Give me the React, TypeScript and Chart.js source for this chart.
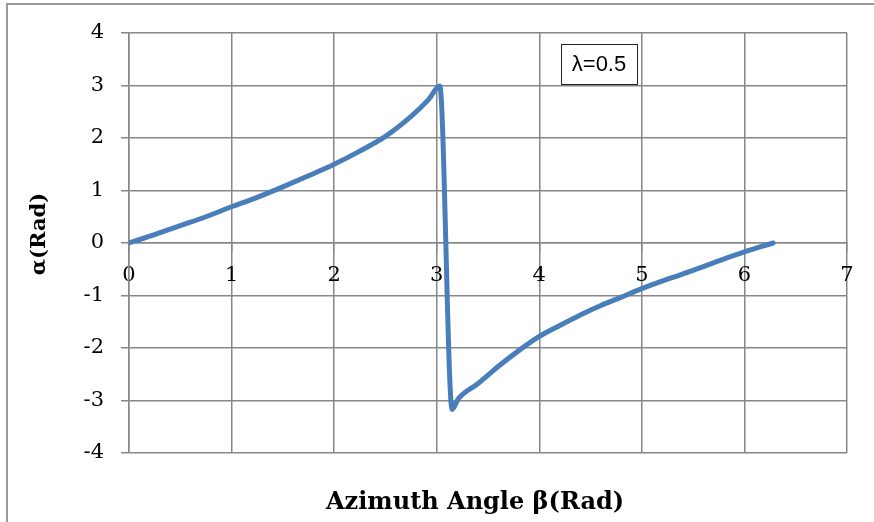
import { useEffect, useRef } from "react";
import { Chart, registerables, Plugin } from "chart.js";

Chart.register(...registerables);

// Azimuth angle β (rad) and the resulting α (rad) for λ = 0.5
const betaRad = [
  0, 0.25, 0.5, 0.75, 1, 1.25, 1.5, 1.75, 2, 2.25, 2.5, 2.75, 2.92, 3.03,
  3.15, 3.21, 3.4, 3.62, 3.8, 4, 4.2, 4.4, 4.6, 4.8, 5, 5.25, 5.5, 5.75, 6, 6.28,
];
const alphaRad = [
  0, 0.16, 0.33, 0.5, 0.69, 0.87, 1.07, 1.28, 1.5, 1.75, 2.03, 2.41, 2.73, 2.99,
  -3.17, -2.97, -2.68, -2.32, -2.05, -1.78, -1.57, -1.37, -1.19, -1.03, -0.87, -0.69, -0.52, -0.34, -0.17, 0,
];

const xRange = [0, 7];
const yRange = [-4, 4];
const tickStep = 1;

const xTitle = "Azimuth Angle β(Rad)";
const yTitle = "α(Rad)";
const noteText = "λ=0.5";

const gridGray = "#878787";
const lineBlue = "#4a7ebb";
const serif = "'DejaVu Serif', serif";

const decorations: Plugin = {
  id: "decorations",
  beforeDraw(chart) {
    const { ctx, width, height } = chart;
    ctx.save();
    ctx.fillStyle = "#ffffff";
    ctx.fillRect(0, 0, width, height);
    // outer frame of the chart object
    ctx.strokeStyle = "#9a9a9a";
    ctx.lineWidth = 2;
    ctx.beginPath();
    ctx.moveTo(7, height);
    ctx.lineTo(7, 4);
    ctx.lineTo(width, 4);
    ctx.stroke();
    ctx.restore();
  },
  afterDraw(chart) {
    const { ctx, chartArea } = chart;
    ctx.save();
    ctx.fillStyle = "#000000";

    // horizontal axis title
    ctx.font = `bold 24px ${serif}`;
    ctx.textAlign = "center";
    ctx.textBaseline = "middle";
    ctx.fillText(xTitle, chartArea.left + 346, chartArea.bottom + 50);

    // vertical axis title
    ctx.save();
    ctx.translate(40, chartArea.top + 201);
    ctx.rotate(-Math.PI / 2);
    ctx.font = `bold 21px ${serif}`;
    ctx.fillText(yTitle, 0, 0);
    ctx.restore();

    // parameter note box
    const bx = chartArea.left + 432;
    const by = chartArea.top + 11;
    const bw = 76;
    const bh = 40;
    ctx.fillStyle = "#ffffff";
    ctx.fillRect(bx, by, bw, bh);
    ctx.strokeStyle = "#222222";
    ctx.lineWidth = 1;
    ctx.strokeRect(bx + 0.5, by + 0.5, bw, bh);
    ctx.fillStyle = "#000000";
    ctx.font = "22px 'Liberation Sans', sans-serif";
    ctx.fillText(noteText, bx + bw / 2, by + bh / 2 + 1);
    ctx.restore();
  },
};

export default function App() {
  const canvasRef = useRef<HTMLCanvasElement | null>(null);

  useEffect(() => {
    if (!canvasRef.current) return;
    const points = betaRad.map((b, i) => ({ x: b, y: alphaRad[i] }));
    const chart = new Chart(canvasRef.current, {
      type: "line",
      data: {
        datasets: [
          {
            data: points,
            borderColor: lineBlue,
            borderWidth: 5,
            pointRadius: 0,
            cubicInterpolationMode: "monotone",
            borderCapStyle: "round",
            borderJoinStyle: "round",
            fill: false,
          },
        ],
      },
      options: {
        animation: false,
        responsive: false,
        devicePixelRatio: 1,
        layout: { padding: { left: 0, top: 33, right: 27, bottom: 69 } },
        plugins: {
          legend: { display: false },
          tooltip: { enabled: false },
        },
        scales: {
          x: {
            type: "linear",
            position: { y: 0 },
            min: xRange[0],
            max: xRange[1],
            ticks: {
              stepSize: tickStep,
              color: "#000000",
              padding: 12,
              font: { family: serif, size: 21 },
            },
            grid: { color: gridGray, lineWidth: 1.5, tickLength: 8 },
            border: { color: gridGray, width: 1.5 },
          },
          y: {
            type: "linear",
            position: "left",
            min: yRange[0],
            max: yRange[1],
            ticks: {
              stepSize: tickStep,
              color: "#000000",
              padding: 17,
              font: { family: serif, size: 21 },
            },
            grid: { color: gridGray, lineWidth: 1.5, tickLength: 8 },
            border: { color: gridGray, width: 1.5 },
            afterFit(scale) {
              scale.width = 129;
            },
          },
        },
      },
      plugins: [decorations],
    });
    return () => chart.destroy();
  }, []);

  return (
    <div style={{ position: "fixed", left: 0, top: 0, width: 874, height: 522, background: "#fff" }}>
      <canvas ref={canvasRef} width={874} height={522} />
    </div>
  );
}
